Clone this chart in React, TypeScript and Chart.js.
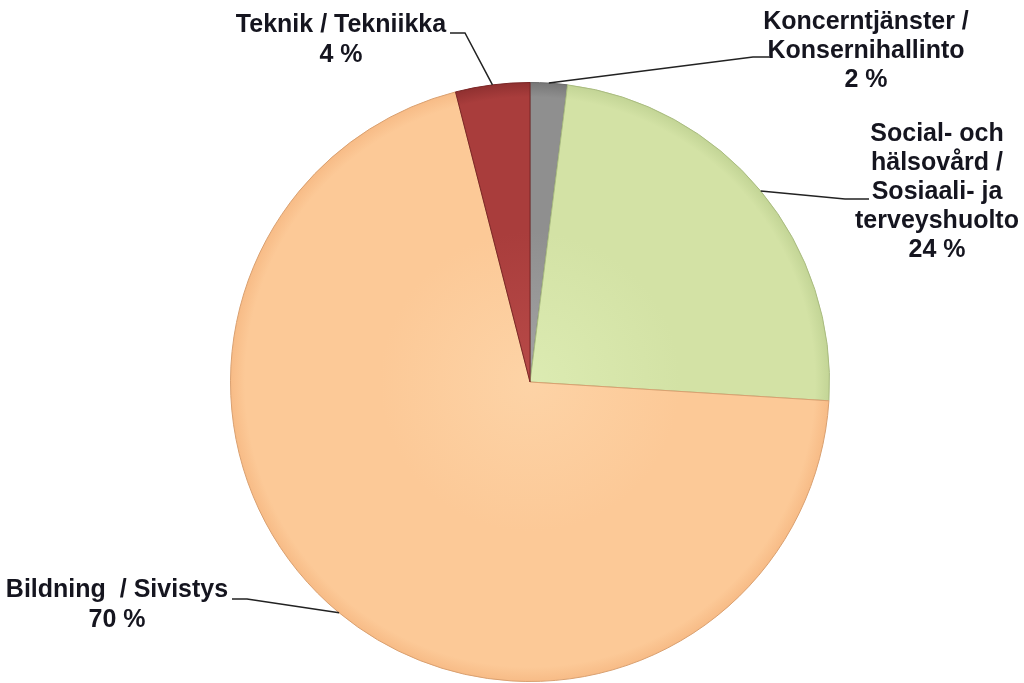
import React, { useEffect, useRef } from "react";
import { Chart, registerables } from "chart.js";

Chart.register(...registerables);

const categories = [
  "Koncerntjänster / Konsernihallinto",
  "Social- och hälsovård / Sosiaali- ja terveyshuolto",
  "Bildning  / Sivistys",
  "Teknik / Tekniikka",
];
const values = [2, 24, 70, 4];
const labelLines = [
  ["Koncerntjänster /", "Konsernihallinto", "2 %"],
  ["Social- och", "hälsovård /", "Sosiaali- ja", "terveyshuolto", "24 %"],
  ["Bildning  / Sivistys", "70 %"],
  ["Teknik / Tekniikka", "4 %"],
];
const baseColors = ["#8f8f8f", "#d3e2a5", "#fcc997", "#a93d3c"];
const lightColors = ["#a4a4a4", "#dcebb2", "#fdd3a6", "#b84a48"];
const darkColors = ["#767676", "#c2d495", "#f7bb86", "#8f3030"];

// label layout: text center x, first line y, line height, elbow point, line end point
const labelLayout = [
  { x: 866, y: 22, lh: 29, elbow: [753, 57], end: [769, 57] },
  { x: 937, y: 134, lh: 29, elbow: [845, 199], end: [869, 199] },
  { x: 117, y: 590, lh: 30, elbow: [247, 599], end: [232, 599] },
  { x: 341, y: 25, lh: 30, elbow: [465, 33], end: [450, 33] },
];

const labelPlugin = {
  id: "leaderLabels",
  afterDraw(chart: any) {
    const ctx = chart.ctx;
    const meta = chart.getDatasetMeta(0);
    ctx.save();
    meta.data.forEach((arc: any, i: number) => {
      const p = arc.getProps(["x", "y", "startAngle", "endAngle", "outerRadius"], true);
      const mid = (p.startAngle + p.endAngle) / 2;
      const sx = p.x + Math.cos(mid) * p.outerRadius;
      const sy = p.y + Math.sin(mid) * p.outerRadius;
      const L = labelLayout[i];
      ctx.strokeStyle = "#222";
      ctx.lineWidth = 1.5;
      ctx.beginPath();
      ctx.moveTo(sx, sy);
      ctx.lineTo(L.elbow[0], L.elbow[1]);
      ctx.lineTo(L.end[0], L.end[1]);
      ctx.stroke();
      ctx.fillStyle = "#15151f";
      ctx.font = "bold 25px 'Liberation Sans', Arial, sans-serif";
      ctx.textAlign = "center";
      ctx.textBaseline = "middle";
      labelLines[i].forEach((t, j) => {
        ctx.fillText(t, L.x, L.y + j * L.lh);
      });
    });
    ctx.restore();
  },
};

function sliceFill(c: any) {
  const i = c.dataIndex;
  const chart = c.chart;
  const area = chart.chartArea;
  if (!area || i === undefined) return baseColors[i ?? 0];
  const cx = (area.left + area.right) / 2;
  const cy = (area.top + area.bottom) / 2;
  const r = Math.min(area.right - area.left, area.bottom - area.top) / 2;
  const g = chart.ctx.createRadialGradient(cx, cy, 0, cx, cy, r);
  g.addColorStop(0, lightColors[i]);
  g.addColorStop(0.5, baseColors[i]);
  g.addColorStop(0.95, baseColors[i]);
  g.addColorStop(1, darkColors[i]);
  return g;
}

export default function App() {
  const ref = useRef<HTMLCanvasElement>(null);
  useEffect(() => {
    document.body.style.margin = "0";
    const chart = new Chart(ref.current!, {
      type: "pie",
      data: {
        labels: categories,
        datasets: [
          {
            data: values,
            backgroundColor: sliceFill as any,
            borderColor: ["#6a6a6a", "#a9bb80", "#d9a070", "#7a2626"],
            borderWidth: 1,
          },
        ],
      },
      options: {
        animation: false,
        responsive: false,
        layout: { padding: { left: 230, right: 194, top: 82, bottom: 1 } },
        plugins: { legend: { display: false }, tooltip: { enabled: false } },
      },
      plugins: [labelPlugin],
    });
    return () => chart.destroy();
  }, []);
  return (
    <div style={{ position: "absolute", left: 0, top: 0, width: 1024, height: 683, background: "#fff" }}>
      <canvas ref={ref} width={1024} height={683} style={{ width: 1024, height: 683 }} />
    </div>
  );
}
